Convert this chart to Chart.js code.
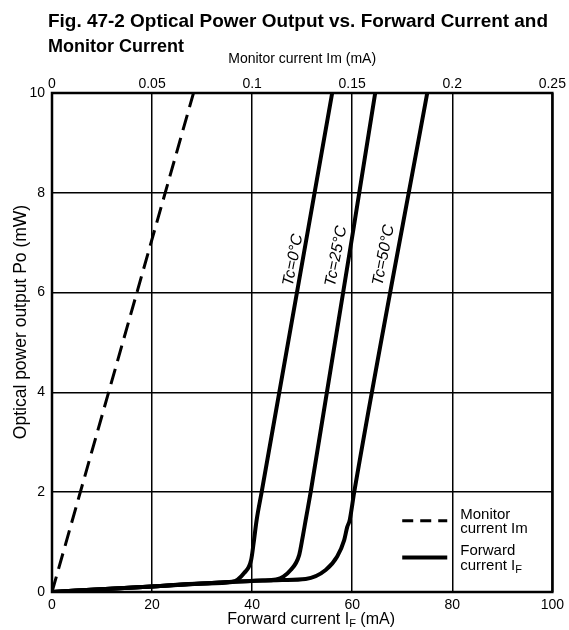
<!DOCTYPE html>
<html>
<head>
<meta charset="utf-8">
<script src="https://cdn.jsdelivr.net/npm/chart.js@4.4.1/dist/chart.umd.min.js"></script>
<style>
  html, body { margin: 0; padding: 0; background: #fff; }
  #wrap { width: 569px; height: 630px; }
</style>
</head>
<body>
<div id="wrap"><canvas id="chart" width="569" height="630"></canvas></div>
<script>
"use strict";

// values (forward current mA, power mW)
const tc0X = [0, 5, 20, 30, 36, 38.4, 39.8, 40.3, 40.9, 41.9, 56];
const tc0Y = [0, 0.03, 0.11, 0.17, 0.2, 0.38, 0.64, 0.98, 1.44, 2, 10];
const tc25X = [0, 5, 20, 33.5, 42, 44.8, 47.7, 49.4, 50.1, 50.7, 51.7, 64.6];
const tc25Y = [0, 0.03, 0.11, 0.19, 0.23, 0.25, 0.44, 0.74, 1.1, 1.44, 2, 10];
const tc50X = [0, 5, 20, 33.5, 46, 50.7, 54.7, 57, 58.4, 59, 59.5, 60.4, 75];
const tc50Y = [0, 0.03, 0.11, 0.19, 0.24, 0.26, 0.44, 0.71, 1.04, 1.3, 1.44, 2, 10];
// monitor current (mA, top axis)
const monX = [0, 0.0707];
const monY = [0, 10];

const bottomTicks = [0, 20, 40, 60, 80, 100];
const topTicks = [0, 0.05, 0.1, 0.15, 0.2, 0.25];
const leftTicks = [0, 2, 4, 6, 8, 10];
const curveLabels = ["Tc=0°C", "Tc=25°C", "Tc=50°C"];
const labelAt = [[48.2, 6.65], [56.8, 6.73], [66.3, 6.75]];

const FONT = "'Liberation Sans', Arial, Helvetica, sans-serif";

function pts(xs, ys) {
  return xs.map((x, i) => ({ x: x, y: ys[i] }));
}

function fixTicks(values) {
  return function (scale) {
    scale.ticks = values.map(v => ({ value: v }));
  };
}

// text, frame and legend that chart.js can't place the way the figure does
const extras = {
  id: "extras",
  beforeDatasetsDraw(chart) {
    const ctx = chart.ctx;
    const a = chart.chartArea;
    ctx.save();
    ctx.strokeStyle = "#000";
    ctx.lineWidth = 2.5;
    ctx.strokeRect(a.left, a.top, a.right - a.left, a.bottom - a.top);
    ctx.restore();
  },
  afterDraw(chart) {
    const ctx = chart.ctx;
    const a = chart.chartArea;
    const x = chart.scales.x;
    const y = chart.scales.y;
    const midX = (a.left + a.right) / 2;
    ctx.save();
    ctx.fillStyle = "#000";
    ctx.textBaseline = "alphabetic";

    // title
    ctx.textAlign = "left";
    ctx.font = "bold 19px " + FONT;
    ctx.fillText("Fig. 47-2 Optical Power Output vs. Forward Current and", 48, 27, 500);
    ctx.font = "bold 18px " + FONT;
    ctx.fillText("Monitor Current", 48, 52);

    // top axis title
    ctx.font = "14px " + FONT;
    ctx.textAlign = "center";
    ctx.fillText("Monitor current Im (mA)", midX, 63);

    // bottom axis title with subscript
    const p1 = "Forward current I", p2 = "F", p3 = " (mA)";
    ctx.font = "16px " + FONT;
    const w1 = ctx.measureText(p1).width;
    const w3 = ctx.measureText(p3).width;
    ctx.font = "11px " + FONT;
    const w2 = ctx.measureText(p2).width;
    let sx = midX + 9 - (w1 + w2 + w3) / 2;
    ctx.textAlign = "left";
    ctx.font = "16px " + FONT;
    ctx.fillText(p1, sx, 624);
    ctx.font = "11px " + FONT;
    ctx.fillText(p2, sx + w1, 627);
    ctx.font = "16px " + FONT;
    ctx.fillText(p3, sx + w1 + w2, 624);

    // left axis title
    ctx.save();
    ctx.translate(26, 322);
    ctx.rotate(-Math.PI / 2);
    ctx.textAlign = "center";
    ctx.font = "17.5px " + FONT;
    ctx.fillText("Optical power output Po (mW)", 0, 0);
    ctx.restore();

    // curve labels along the lines
    ctx.font = "italic 16px " + FONT;
    ctx.textAlign = "center";
    ctx.textBaseline = "middle";
    curveLabels.forEach((t, i) => {
      ctx.save();
      ctx.translate(x.getPixelForValue(labelAt[i][0]), y.getPixelForValue(labelAt[i][1]));
      ctx.rotate(-79 * Math.PI / 180);
      ctx.fillText(t, 0, 0);
      ctx.restore();
    });

    // legend
    const lx0 = x.getPixelForValue(70), lx1 = x.getPixelForValue(79);
    const ly1 = y.getPixelForValue(1.43), ly2 = y.getPixelForValue(0.69);
    ctx.strokeStyle = "#000";
    ctx.lineWidth = 3;
    ctx.setLineDash([11, 7]);
    ctx.beginPath();
    ctx.moveTo(lx0, ly1);
    ctx.lineTo(lx1, ly1);
    ctx.stroke();
    ctx.setLineDash([]);
    ctx.lineWidth = 4;
    ctx.beginPath();
    ctx.moveTo(lx0, ly2);
    ctx.lineTo(lx1, ly2);
    ctx.stroke();

    const tx = x.getPixelForValue(81.6);
    ctx.textAlign = "left";
    ctx.textBaseline = "alphabetic";
    ctx.font = "15px " + FONT;
    ctx.fillText("Monitor", tx, ly1 - 2);
    ctx.fillText("current Im", tx, ly1 + 12);
    ctx.fillText("Forward", tx, ly2 - 3);
    const wc = ctx.measureText("current I").width;
    ctx.fillText("current I", tx, ly2 + 12);
    ctx.font = "11px " + FONT;
    ctx.fillText("F", tx + wc, ly2 + 15);
    ctx.restore();
  }
};

const solid = {
  showLine: true,
  borderColor: "#000",
  borderWidth: 4,
  pointRadius: 0,
  cubicInterpolationMode: "monotone",
  xAxisID: "x",
  yAxisID: "y"
};

new Chart(document.getElementById("chart"), {
  type: "scatter",
  data: {
    datasets: [
      Object.assign({ label: curveLabels[0], data: pts(tc0X, tc0Y) }, solid),
      Object.assign({ label: curveLabels[1], data: pts(tc25X, tc25Y) }, solid),
      Object.assign({ label: curveLabels[2], data: pts(tc50X, tc50Y) }, solid),
      {
        label: "Monitor current Im",
        data: pts(monX, monY),
        showLine: true,
        borderColor: "#000",
        borderWidth: 3,
        borderDash: [16, 8],
        pointRadius: 0,
        xAxisID: "x2",
        yAxisID: "y"
      }
    ]
  },
  options: {
    responsive: false,
    animation: false,
    devicePixelRatio: 1,
    layout: { padding: { top: 53, right: 8, left: 0, bottom: 0 } },
    plugins: {
      legend: { display: false },
      title: { display: false },
      tooltip: { enabled: false }
    },
    scales: {
      x: {
        type: "linear",
        position: "bottom",
        min: 0,
        max: 100,
        afterBuildTicks: fixTicks(bottomTicks),
        afterFit(s) { s.height = 38; },
        grid: { color: "#000", lineWidth: 1.5, drawTicks: false },
        border: { display: false },
        ticks: { color: "#000", padding: 5, font: { family: FONT, size: 14 }, maxRotation: 0 }
      },
      x2: {
        type: "linear",
        position: "top",
        min: 0,
        max: 0.25,
        afterBuildTicks: fixTicks(topTicks),
        afterFit(s) { s.height = 40; },
        grid: { display: false, drawTicks: false },
        border: { display: false },
        ticks: {
          color: "#000",
          padding: 0,
          font: { family: FONT, size: 14 },
          maxRotation: 0,
          callback: v => String(Number(v.toFixed(2)))
        }
      },
      y: {
        type: "linear",
        min: 0,
        max: 10,
        afterBuildTicks: fixTicks(leftTicks),
        afterFit(s) { s.width = 52; },
        grid: { color: "#000", lineWidth: 1.5, drawTicks: false },
        border: { display: false },
        ticks: { color: "#000", padding: 7, font: { family: FONT, size: 14 } }
      }
    }
  },
  plugins: [extras]
});
</script>
</body>
</html>
